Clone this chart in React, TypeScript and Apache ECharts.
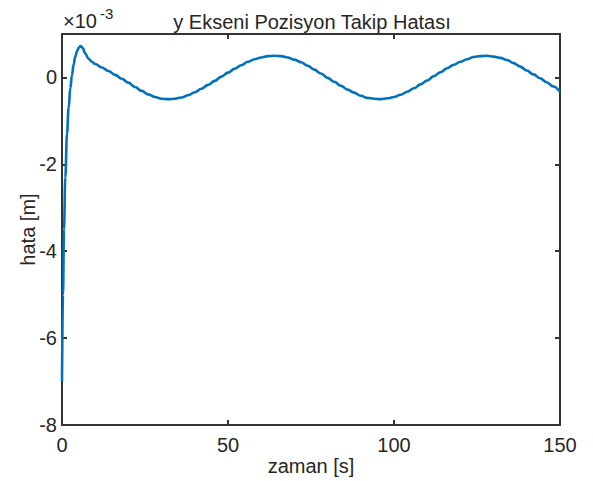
import React, { useEffect, useRef } from "react";
import * as echarts from "echarts";

const times = [0, 0.3, 0.6, 1.0, 1.5, 2.0, 2.5, 3.0, 3.5, 4.0, 4.5, 5.0, 5.6, 6.2, 7.0, 8.0, 9.0, 10, 12, 14, 16, 18, 20, 22, 24, 26, 28, 30, 32, 34, 36, 38, 40, 42, 44, 46, 48, 50, 52, 54, 56, 58, 60, 62, 64, 66, 68, 70, 72, 74, 76, 78, 80, 82, 84, 86, 88, 90, 92, 94, 96, 98, 100, 102, 104, 106, 108, 110, 112, 114, 116, 118, 120, 122, 124, 126, 128, 130, 132, 134, 136, 138, 140, 142, 144, 146, 148, 150];
const errors = [-7.0, -5.0, -3.5, -2.3, -1.3, -0.7, -0.25, 0.05, 0.3, 0.48, 0.6, 0.68, 0.72, 0.68, 0.55, 0.43, 0.36, 0.31, 0.23, 0.15, 0.06, -0.03, -0.12, -0.22, -0.31, -0.39, -0.45, -0.49, -0.5, -0.49, -0.46, -0.41, -0.34, -0.26, -0.17, -0.08, 0.02, 0.11, 0.2, 0.28, 0.36, 0.42, 0.46, 0.49, 0.5, 0.49, 0.46, 0.41, 0.35, 0.27, 0.18, 0.09, -0.01, -0.1, -0.19, -0.28, -0.35, -0.42, -0.47, -0.49, -0.5, -0.48, -0.45, -0.4, -0.33, -0.25, -0.16, -0.07, 0.03, 0.12, 0.21, 0.29, 0.36, 0.42, 0.47, 0.49, 0.5, 0.48, 0.45, 0.4, 0.33, 0.25, 0.16, 0.07, -0.02, -0.11, -0.21, -0.33];

const titleText = "y Ekseni Pozisyon Takip Hatası";
const xName = "zaman [s]";
const yName = "hata [m]";
const xTicks = [0, 50, 100, 150];
const yTicks = [-8, -6, -4, -2, 0];

const FONT = "'Liberation Sans', Arial, Helvetica, sans-serif";
const TXT = "#262626";
const AX = "#333333";
const FS = 20;

export default function App() {
  const ref = useRef<HTMLDivElement>(null);
  useEffect(() => {
    if (!ref.current) return;
    const chart = echarts.init(ref.current, undefined, { renderer: "svg" });
    const data = times.map((t, i) => [t, errors[i]]);
    const axisLine = { show: true, onZero: false, lineStyle: { color: AX, width: 2 } };
    const axisTick = { show: true, inside: true, length: 5, lineStyle: { color: AX, width: 2 } };
    chart.setOption({
      animation: false,
      textStyle: { fontFamily: FONT },
      grid: { left: 62, right: 33, top: 34, bottom: 55, containLabel: false },
      xAxis: [
        {
          type: "value",
          min: xTicks[0],
          max: xTicks[xTicks.length - 1],
          interval: 50,
          axisLine,
          axisTick,
          splitLine: { show: false },
          axisLabel: { color: TXT, fontSize: FS, margin: 10, fontFamily: FONT },
          name: xName,
          nameLocation: "middle",
          nameGap: 31,
          nameMoveOverlap: false,
          nameTextStyle: { color: TXT, fontSize: FS, fontFamily: FONT },
        },
        {
          type: "value",
          position: "top",
          min: 0,
          max: 150,
          interval: 50,
          axisLine,
          axisTick,
          splitLine: { show: false },
          axisLabel: { show: false },
        },
      ],
      yAxis: [
        {
          type: "value",
          min: yTicks[0],
          max: 1,
          interval: 2,
          axisLine,
          axisTick,
          splitLine: { show: false },
          axisLabel: {
            color: TXT,
            fontSize: FS,
            margin: 5,
            fontFamily: FONT,
            formatter: (v: number) => (yTicks.includes(v) ? String(v) : ""),
          },
          name: yName,
          nameLocation: "middle",
          nameGap: 24,
          nameMoveOverlap: false,
          nameTextStyle: { color: TXT, fontSize: FS, fontFamily: FONT },
        },
        {
          type: "value",
          position: "right",
          min: -8,
          max: 1,
          interval: 2,
          axisLine,
          axisTick,
          splitLine: { show: false },
          axisLabel: { show: false },
        },
      ],
      graphic: [
        {
          type: "text",
          x: 312,
          y: 22,
          style: {
            text: titleText,
            fontSize: FS,
            fontFamily: FONT,
            fill: TXT,
            textAlign: "center",
            textVerticalAlign: "middle",
          },
        },
        {
          type: "text",
          x: 63,
          y: 21,
          style: {
            text: "×10",
            fontSize: 20,
            fontFamily: FONT,
            fill: TXT,
            textAlign: "left",
            textVerticalAlign: "middle",
          },
        },
        {
          type: "text",
          x: 100,
          y: 13,
          style: {
            text: "-3",
            fontSize: 15,
            fontFamily: FONT,
            fill: TXT,
            textAlign: "left",
            textVerticalAlign: "middle",
          },
        },
      ],
      series: [
        {
          type: "line",
          data,
          showSymbol: false,
          smooth: 0.4,
          smoothMonotone: "x",
          lineStyle: { color: "#0072BD", width: 2.6 },
          itemStyle: { color: "#0072BD" },
          clip: true,
        },
      ],
    });
    return () => chart.dispose();
  }, []);
  return (
    <div
      ref={ref}
      style={{ position: "fixed", left: 0, top: 0, width: 593, height: 481, background: "#fff" }}
    />
  );
}
